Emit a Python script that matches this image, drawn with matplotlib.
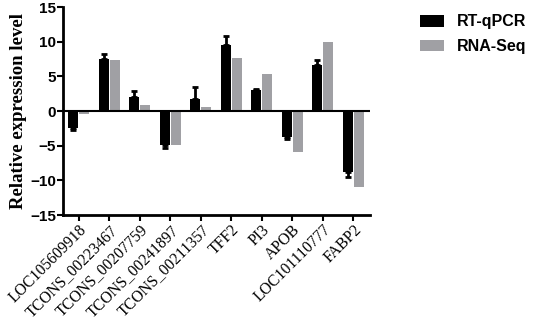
import numpy as np
import matplotlib.pyplot as plt
from matplotlib.patches import Patch

genes = ["LOC105609918", "TCONS_00223467", "TCONS_00207759", "TCONS_00241897",
         "TCONS_00211357", "TFF2", "PI3", "APOB", "LOC101110777", "FABP2"]
rt_qpcr = [-2.4, 7.45, 2.0, -4.95, 1.8, 9.5, 3.1, -3.8, 6.7, -8.85]
rt_qpcr_err = [0.3, 0.8, 0.9, 0.45, 1.7, 1.3, 0.15, 0.25, 0.7, 0.65]
rna_seq = [-0.4, 7.3, 0.9, -4.9, 0.55, 7.7, 5.4, -5.9, 9.9, -10.9]

black = "#000000"
grey = "#a0a0a4"

fig = plt.figure(figsize=(5.36, 3.2), dpi=100)
ax = fig.add_axes([0.1175, 0.328, 0.573, 0.65])

x = np.arange(len(genes))
w = 0.33

# error bars only point away from zero
lower = [e if v < 0 else 0 for v, e in zip(rt_qpcr, rt_qpcr_err)]
upper = [e if v >= 0 else 0 for v, e in zip(rt_qpcr, rt_qpcr_err)]

ax.bar(x - 0.18, rt_qpcr, w, color=black, yerr=[lower, upper],
       error_kw=dict(ecolor=black, elinewidth=2, capsize=2, capthick=2))
ax.bar(x + 0.18, rna_seq, w, color=grey)

ax.axhline(0, color="black", lw=1.5)

ax.set_xlim(-0.52, 9.55)
ax.set_ylim(-15, 15)
ax.set_yticks([-15, -10, -5, 0, 5, 10, 15])
ax.set_xticks(x)
ax.set_xticklabels(genes, rotation=45, ha="right", rotation_mode="anchor",
                   family="Liberation Serif", fontsize=11.3)
for lab in ax.get_yticklabels():
    lab.set_family("Liberation Sans")
    lab.set_fontweight("bold")
    lab.set_fontsize(11)

ax.set_ylabel("Relative expression level", family="Liberation Serif",
              fontweight="bold", fontsize=13.5, labelpad=2)

for s in ["top", "right"]:
    ax.spines[s].set_visible(False)
for s in ["left", "bottom"]:
    ax.spines[s].set_linewidth(2)
ax.tick_params(width=1.5, length=4, direction="out", pad=1)

handles = [Patch(facecolor=black, label="RT-qPCR"),
           Patch(facecolor=grey, label="RNA-Seq")]
fig.legend(handles=handles, loc="upper left", bbox_to_anchor=(0.783, 0.955),
           frameon=False, borderpad=0, borderaxespad=0,
           prop=dict(family="Liberation Sans", weight="bold", size=11.5),
           handlelength=1.5, handleheight=0.75, handletextpad=0.8, labelspacing=0.6)

fig.savefig("out.png", dpi=100)
